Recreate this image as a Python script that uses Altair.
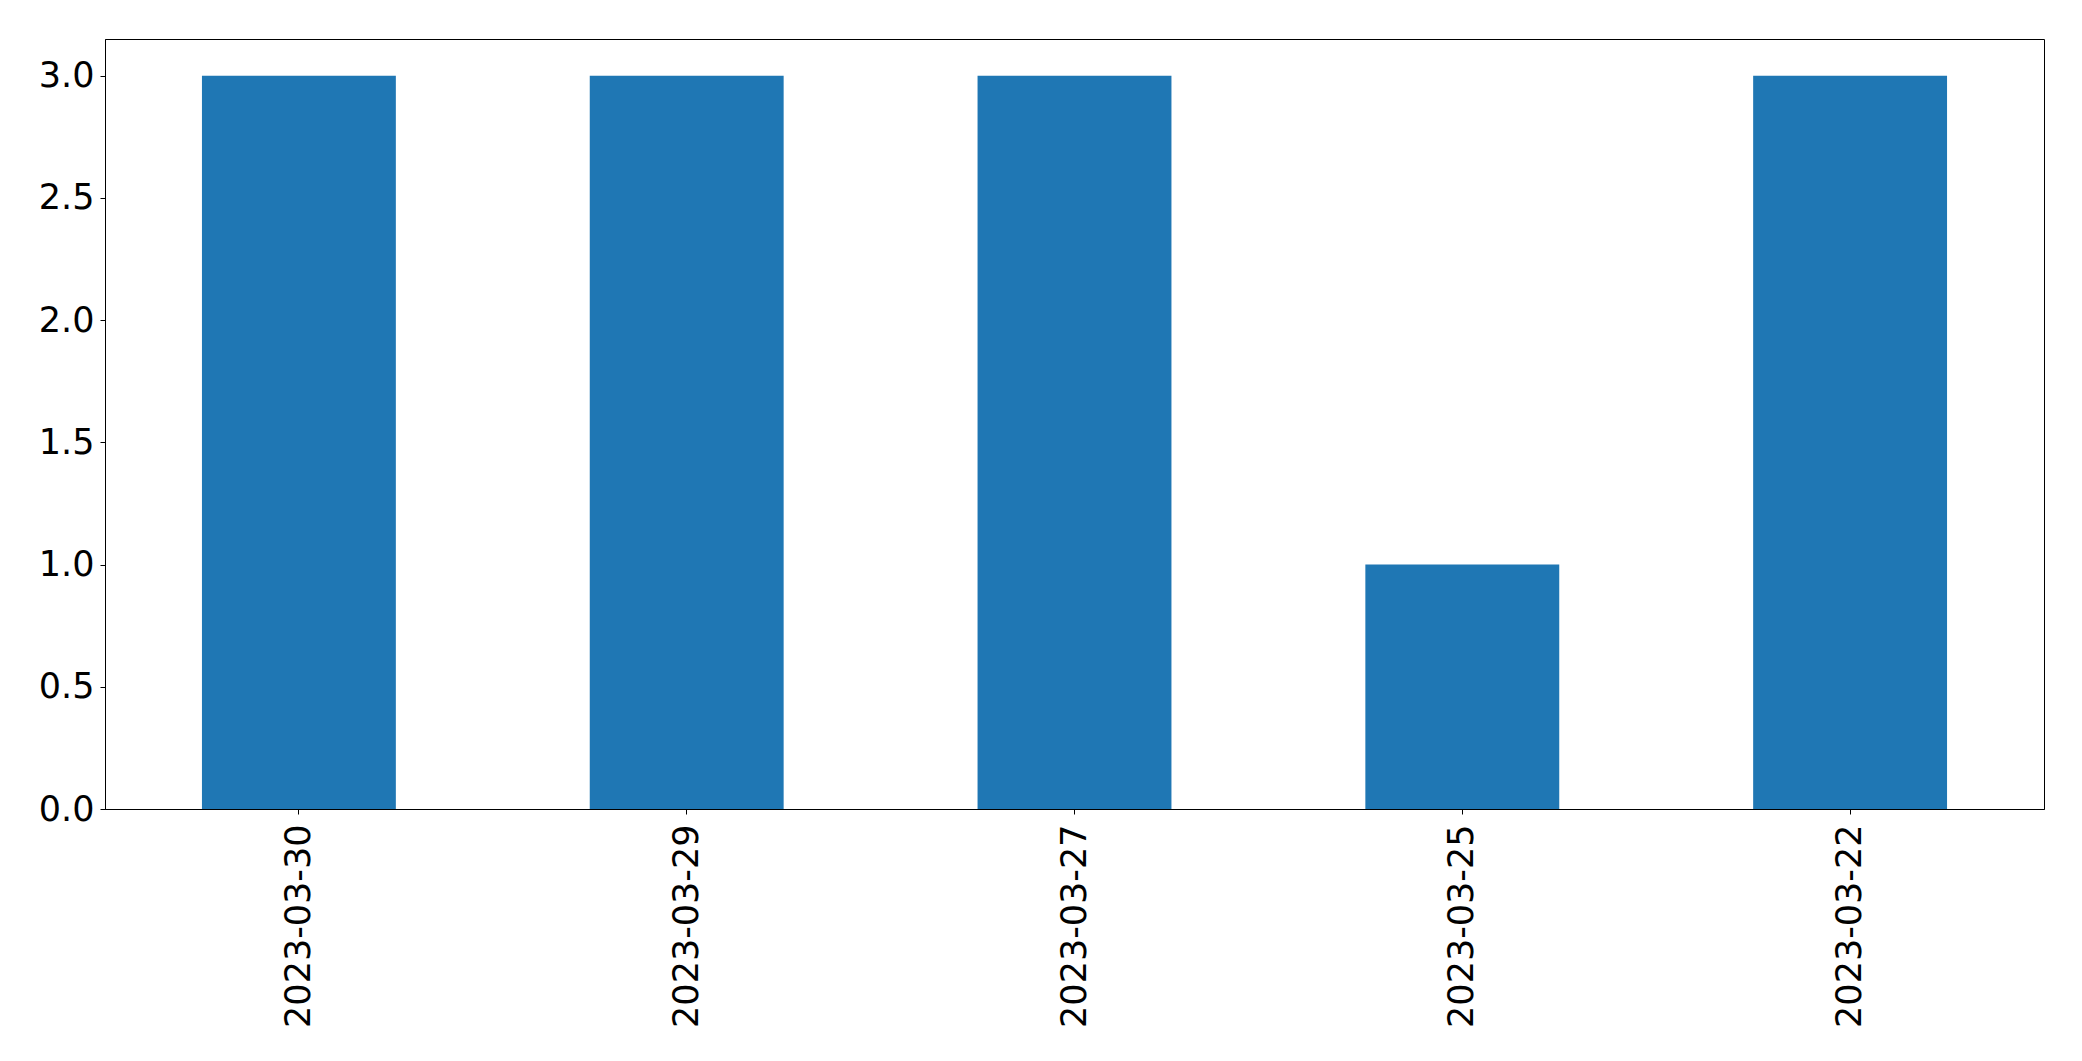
import altair as alt
import pandas as pd

dates = ["2023-03-30", "2023-03-29", "2023-03-27", "2023-03-25", "2023-03-22"]
counts = [3, 3, 3, 1, 3]
y_ticks = [0.0, 0.5, 1.0, 1.5, 2.0, 2.5, 3.0]

df = pd.DataFrame({"date": dates, "count": counts})

FONT = "DejaVu Sans"

chart = (
    alt.Chart(df)
    .mark_bar(color="#1f77b4")
    .encode(
        x=alt.X(
            "date:N",
            sort=None,
            title=None,
            scale=alt.Scale(paddingInner=0.5, paddingOuter=0.25),
            axis=alt.Axis(
                labelAngle=270,
                labelFont=FONT,
                labelFontSize=35,
                labelColor="black",
                labelPadding=10,
                labelLimit=0,
                tickSize=5,
                tickColor="black",
                domainColor="black",
                labelAlign="right",
                labelBaseline="middle",
            ),
        ),
        y=alt.Y(
            "count:Q",
            title=None,
            scale=alt.Scale(domain=[0, 3.15], nice=False, zero=True),
            axis=alt.Axis(
                values=y_ticks,
                format=".1f",
                labelFont=FONT,
                labelFontSize=35,
                labelColor="black",
                labelPadding=6,
                labelLimit=0,
                tickSize=5,
                tickColor="black",
                domainColor="black",
                grid=False,
            ),
        ),
    )
    .properties(
        width=1939,
        height=770,
        autosize=alt.AutoSizeParams(type="none"),
        padding={"left": 97, "top": 31, "right": 30, "bottom": 240},
    )
    .configure_view(stroke="black", strokeWidth=1)
    .configure_axis(grid=False)
)

chart.save("out.html", embed_options={"renderer": "svg", "actions": False})
